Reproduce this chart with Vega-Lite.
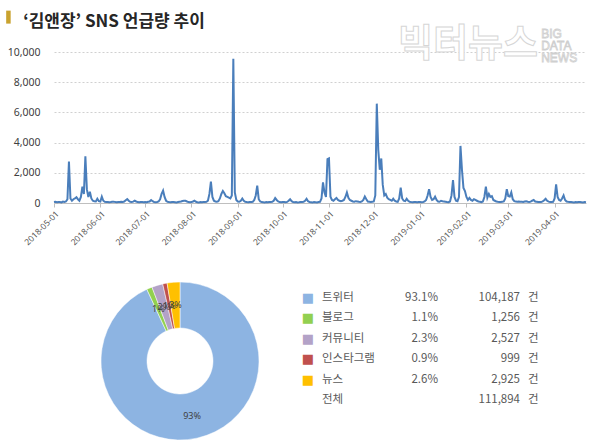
{
"$schema":"https://vega.github.io/schema/vega-lite/v6.json",
"background":"white",
"padding":{"left":6,"top":10,"right":5,"bottom":5},
"title":{"text":"‘김앤장’ SNS 언급량 추이","anchor":"start","frame":"bounds","font":"Noto Sans CJK KR","fontSize":17,"fontWeight":"bold","color":"#262626","dx":17,"offset":-20},
"config":{"view":{"stroke":null},"axisY":{"title":null,"values":[0,2000,4000,6000,8000,10000],"format":",.0f","labelOverlap":false,"domain":false,"ticks":false,"labelFont":"Noto Sans","labelFontSize":10.5,"labelColor":"#404040","labelPadding":14,"grid":true,"gridDash":[2,2],"gridColor":"#d0d0d0"}},
"spacing":29,
"datasets":{
"daily":[
{"d":"2018-05-01","v":60},{"d":"2018-05-02","v":80},{"d":"2018-05-03","v":50},{"d":"2018-05-04","v":70},{"d":"2018-05-05","v":60},{"d":"2018-05-06","v":40},{"d":"2018-05-07","v":90},{"d":"2018-05-08","v":70},{"d":"2018-05-09","v":100},{"d":"2018-05-10","v":250},{"d":"2018-05-11","v":2750},{"d":"2018-05-12","v":300},{"d":"2018-05-13","v":150},{"d":"2018-05-14","v":250},{"d":"2018-05-15","v":300},{"d":"2018-05-16","v":380},{"d":"2018-05-17","v":250},{"d":"2018-05-18","v":150},{"d":"2018-05-19","v":400},{"d":"2018-05-20","v":1080},{"d":"2018-05-21","v":600},{"d":"2018-05-22","v":3100},{"d":"2018-05-23","v":900},{"d":"2018-05-24","v":400},{"d":"2018-05-25","v":750},{"d":"2018-05-26","v":300},{"d":"2018-05-27","v":150},{"d":"2018-05-28","v":120},{"d":"2018-05-29","v":100},{"d":"2018-05-30","v":280},{"d":"2018-05-31","v":120},
{"d":"2018-06-01","v":100},{"d":"2018-06-02","v":420},{"d":"2018-06-03","v":150},{"d":"2018-06-04","v":80},{"d":"2018-06-05","v":60},{"d":"2018-06-06","v":70},{"d":"2018-06-07","v":50},{"d":"2018-06-08","v":60},{"d":"2018-06-09","v":80},{"d":"2018-06-10","v":90},{"d":"2018-06-11","v":60},{"d":"2018-06-12","v":50},{"d":"2018-06-13","v":70},{"d":"2018-06-14","v":60},{"d":"2018-06-15","v":80},{"d":"2018-06-16","v":70},{"d":"2018-06-17","v":100},{"d":"2018-06-18","v":180},{"d":"2018-06-19","v":260},{"d":"2018-06-20","v":150},{"d":"2018-06-21","v":80},{"d":"2018-06-22","v":70},{"d":"2018-06-23","v":90},{"d":"2018-06-24","v":150},{"d":"2018-06-25","v":100},{"d":"2018-06-26","v":60},{"d":"2018-06-27","v":50},{"d":"2018-06-28","v":70},{"d":"2018-06-29","v":60},{"d":"2018-06-30","v":50},
{"d":"2018-07-01","v":60},{"d":"2018-07-02","v":50},{"d":"2018-07-03","v":80},{"d":"2018-07-04","v":100},{"d":"2018-07-05","v":200},{"d":"2018-07-06","v":120},{"d":"2018-07-07","v":60},{"d":"2018-07-08","v":50},{"d":"2018-07-09","v":70},{"d":"2018-07-10","v":100},{"d":"2018-07-11","v":250},{"d":"2018-07-12","v":600},{"d":"2018-07-13","v":820},{"d":"2018-07-14","v":400},{"d":"2018-07-15","v":150},{"d":"2018-07-16","v":80},{"d":"2018-07-17","v":60},{"d":"2018-07-18","v":50},{"d":"2018-07-19","v":70},{"d":"2018-07-20","v":60},{"d":"2018-07-21","v":50},{"d":"2018-07-22","v":40},{"d":"2018-07-23","v":60},{"d":"2018-07-24","v":80},{"d":"2018-07-25","v":100},{"d":"2018-07-26","v":130},{"d":"2018-07-27","v":150},{"d":"2018-07-28","v":150},{"d":"2018-07-29","v":100},{"d":"2018-07-30","v":60},{"d":"2018-07-31","v":50},
{"d":"2018-08-01","v":60},{"d":"2018-08-02","v":100},{"d":"2018-08-03","v":150},{"d":"2018-08-04","v":80},{"d":"2018-08-05","v":50},{"d":"2018-08-06","v":40},{"d":"2018-08-07","v":60},{"d":"2018-08-08","v":50},{"d":"2018-08-09","v":70},{"d":"2018-08-10","v":60},{"d":"2018-08-11","v":80},{"d":"2018-08-12","v":150},{"d":"2018-08-13","v":600},{"d":"2018-08-14","v":1410},{"d":"2018-08-15","v":400},{"d":"2018-08-16","v":150},{"d":"2018-08-17","v":100},{"d":"2018-08-18","v":80},{"d":"2018-08-19","v":120},{"d":"2018-08-20","v":300},{"d":"2018-08-21","v":600},{"d":"2018-08-22","v":800},{"d":"2018-08-23","v":650},{"d":"2018-08-24","v":450},{"d":"2018-08-25","v":400},{"d":"2018-08-26","v":350},{"d":"2018-08-27","v":300},{"d":"2018-08-28","v":500},{"d":"2018-08-29","v":9550},{"d":"2018-08-30","v":700},{"d":"2018-08-31","v":200},
{"d":"2018-09-01","v":100},{"d":"2018-09-02","v":80},{"d":"2018-09-03","v":150},{"d":"2018-09-04","v":300},{"d":"2018-09-05","v":150},{"d":"2018-09-06","v":80},{"d":"2018-09-07","v":60},{"d":"2018-09-08","v":50},{"d":"2018-09-09","v":70},{"d":"2018-09-10","v":60},{"d":"2018-09-11","v":80},{"d":"2018-09-12","v":200},{"d":"2018-09-13","v":500},{"d":"2018-09-14","v":1150},{"d":"2018-09-15","v":250},{"d":"2018-09-16","v":100},{"d":"2018-09-17","v":60},{"d":"2018-09-18","v":50},{"d":"2018-09-19","v":40},{"d":"2018-09-20","v":60},{"d":"2018-09-21","v":50},{"d":"2018-09-22","v":70},{"d":"2018-09-23","v":60},{"d":"2018-09-24","v":80},{"d":"2018-09-25","v":150},{"d":"2018-09-26","v":330},{"d":"2018-09-27","v":200},{"d":"2018-09-28","v":100},{"d":"2018-09-29","v":60},{"d":"2018-09-30","v":50},
{"d":"2018-10-01","v":70},{"d":"2018-10-02","v":60},{"d":"2018-10-03","v":50},{"d":"2018-10-04","v":70},{"d":"2018-10-05","v":150},{"d":"2018-10-06","v":250},{"d":"2018-10-07","v":120},{"d":"2018-10-08","v":60},{"d":"2018-10-09","v":50},{"d":"2018-10-10","v":60},{"d":"2018-10-11","v":40},{"d":"2018-10-12","v":50},{"d":"2018-10-13","v":70},{"d":"2018-10-14","v":60},{"d":"2018-10-15","v":80},{"d":"2018-10-16","v":150},{"d":"2018-10-17","v":280},{"d":"2018-10-18","v":120},{"d":"2018-10-19","v":60},{"d":"2018-10-20","v":50},{"d":"2018-10-21","v":40},{"d":"2018-10-22","v":60},{"d":"2018-10-23","v":50},{"d":"2018-10-24","v":40},{"d":"2018-10-25","v":60},{"d":"2018-10-26","v":80},{"d":"2018-10-27","v":300},{"d":"2018-10-28","v":1370},{"d":"2018-10-29","v":700},{"d":"2018-10-30","v":400},{"d":"2018-10-31","v":2900},
{"d":"2018-11-01","v":2950},{"d":"2018-11-02","v":420},{"d":"2018-11-03","v":200},{"d":"2018-11-04","v":150},{"d":"2018-11-05","v":250},{"d":"2018-11-06","v":330},{"d":"2018-11-07","v":200},{"d":"2018-11-08","v":150},{"d":"2018-11-09","v":120},{"d":"2018-11-10","v":150},{"d":"2018-11-11","v":200},{"d":"2018-11-12","v":400},{"d":"2018-11-13","v":700},{"d":"2018-11-14","v":350},{"d":"2018-11-15","v":200},{"d":"2018-11-16","v":150},{"d":"2018-11-17","v":100},{"d":"2018-11-18","v":80},{"d":"2018-11-19","v":120},{"d":"2018-11-20","v":100},{"d":"2018-11-21","v":80},{"d":"2018-11-22","v":70},{"d":"2018-11-23","v":100},{"d":"2018-11-24","v":200},{"d":"2018-11-25","v":430},{"d":"2018-11-26","v":250},{"d":"2018-11-27","v":100},{"d":"2018-11-28","v":80},{"d":"2018-11-29","v":60},{"d":"2018-11-30","v":80},
{"d":"2018-12-01","v":100},{"d":"2018-12-02","v":500},{"d":"2018-12-03","v":6580},{"d":"2018-12-04","v":3500},{"d":"2018-12-05","v":2200},{"d":"2018-12-06","v":2950},{"d":"2018-12-07","v":1200},{"d":"2018-12-08","v":500},{"d":"2018-12-09","v":600},{"d":"2018-12-10","v":350},{"d":"2018-12-11","v":250},{"d":"2018-12-12","v":200},{"d":"2018-12-13","v":150},{"d":"2018-12-14","v":280},{"d":"2018-12-15","v":150},{"d":"2018-12-16","v":100},{"d":"2018-12-17","v":80},{"d":"2018-12-18","v":300},{"d":"2018-12-19","v":1010},{"d":"2018-12-20","v":300},{"d":"2018-12-21","v":150},{"d":"2018-12-22","v":120},{"d":"2018-12-23","v":280},{"d":"2018-12-24","v":150},{"d":"2018-12-25","v":80},{"d":"2018-12-26","v":60},{"d":"2018-12-27","v":50},{"d":"2018-12-28","v":70},{"d":"2018-12-29","v":60},{"d":"2018-12-30","v":50},{"d":"2018-12-31","v":60},
{"d":"2019-01-01","v":60},{"d":"2019-01-02","v":50},{"d":"2019-01-03","v":70},{"d":"2019-01-04","v":100},{"d":"2019-01-05","v":200},{"d":"2019-01-06","v":500},{"d":"2019-01-07","v":920},{"d":"2019-01-08","v":400},{"d":"2019-01-09","v":200},{"d":"2019-01-10","v":250},{"d":"2019-01-11","v":420},{"d":"2019-01-12","v":200},{"d":"2019-01-13","v":100},{"d":"2019-01-14","v":80},{"d":"2019-01-15","v":150},{"d":"2019-01-16","v":120},{"d":"2019-01-17","v":100},{"d":"2019-01-18","v":80},{"d":"2019-01-19","v":60},{"d":"2019-01-20","v":50},{"d":"2019-01-21","v":100},{"d":"2019-01-22","v":500},{"d":"2019-01-23","v":1520},{"d":"2019-01-24","v":400},{"d":"2019-01-25","v":150},{"d":"2019-01-26","v":120},{"d":"2019-01-27","v":400},{"d":"2019-01-28","v":3780},{"d":"2019-01-29","v":2200},{"d":"2019-01-30","v":1000},{"d":"2019-01-31","v":790},
{"d":"2019-02-01","v":400},{"d":"2019-02-02","v":200},{"d":"2019-02-03","v":330},{"d":"2019-02-04","v":200},{"d":"2019-02-05","v":150},{"d":"2019-02-06","v":250},{"d":"2019-02-07","v":200},{"d":"2019-02-08","v":150},{"d":"2019-02-09","v":100},{"d":"2019-02-10","v":80},{"d":"2019-02-11","v":60},{"d":"2019-02-12","v":100},{"d":"2019-02-13","v":400},{"d":"2019-02-14","v":1080},{"d":"2019-02-15","v":350},{"d":"2019-02-16","v":600},{"d":"2019-02-17","v":400},{"d":"2019-02-18","v":450},{"d":"2019-02-19","v":200},{"d":"2019-02-20","v":150},{"d":"2019-02-21","v":100},{"d":"2019-02-22","v":80},{"d":"2019-02-23","v":70},{"d":"2019-02-24","v":60},{"d":"2019-02-25","v":80},{"d":"2019-02-26","v":100},{"d":"2019-02-27","v":300},{"d":"2019-02-28","v":920},
{"d":"2019-03-01","v":450},{"d":"2019-03-02","v":430},{"d":"2019-03-03","v":700},{"d":"2019-03-04","v":250},{"d":"2019-03-05","v":120},{"d":"2019-03-06","v":100},{"d":"2019-03-07","v":80},{"d":"2019-03-08","v":100},{"d":"2019-03-09","v":90},{"d":"2019-03-10","v":80},{"d":"2019-03-11","v":70},{"d":"2019-03-12","v":100},{"d":"2019-03-13","v":120},{"d":"2019-03-14","v":80},{"d":"2019-03-15","v":70},{"d":"2019-03-16","v":90},{"d":"2019-03-17","v":150},{"d":"2019-03-18","v":200},{"d":"2019-03-19","v":100},{"d":"2019-03-20","v":80},{"d":"2019-03-21","v":60},{"d":"2019-03-22","v":70},{"d":"2019-03-23","v":60},{"d":"2019-03-24","v":100},{"d":"2019-03-25","v":180},{"d":"2019-03-26","v":280},{"d":"2019-03-27","v":150},{"d":"2019-03-28","v":90},{"d":"2019-03-29","v":70},{"d":"2019-03-30","v":60},{"d":"2019-03-31","v":80},
{"d":"2019-04-01","v":300},{"d":"2019-04-02","v":1230},{"d":"2019-04-03","v":400},{"d":"2019-04-04","v":200},{"d":"2019-04-05","v":150},{"d":"2019-04-06","v":300},{"d":"2019-04-07","v":500},{"d":"2019-04-08","v":200},{"d":"2019-04-09","v":100},{"d":"2019-04-10","v":80},{"d":"2019-04-11","v":70},{"d":"2019-04-12","v":60},{"d":"2019-04-13","v":50},{"d":"2019-04-14","v":40},{"d":"2019-04-15","v":60},{"d":"2019-04-16","v":50},{"d":"2019-04-17","v":70},{"d":"2019-04-18","v":60},{"d":"2019-04-19","v":50},{"d":"2019-04-20","v":40},{"d":"2019-04-21","v":60},{"d":"2019-04-22","v":50}
],
"share":[
{"name":"트위터","pct":0.931,"cnt":104187},
{"name":"블로그","pct":0.011,"cnt":1256},
{"name":"커뮤니티","pct":0.023,"cnt":2527},
{"name":"인스타그램","pct":0.009,"cnt":999},
{"name":"뉴스","pct":0.026,"cnt":2925},
{"name":"전체","pct":null,"cnt":111894}
],
"one":[{"k":1}]
},
"vconcat":[
{
"width":532,"height":151,
"layer":[
{"data":{"name":"daily"},
 "mark":{"type":"line","color":"#4A7EBB","strokeWidth":2},
 "encoding":{
  "x":{"field":"d","type":"temporal",
   "scale":{"type":"utc","domain":[{"year":2018,"month":5,"date":1,"utc":true},{"year":2019,"month":4,"date":22,"utc":true}]},
   "axis":{"title":null,"format":"%Y-%m-%d","tickCount":{"interval":"month","step":1},"labelAngle":-45,"labelFont":"Noto Sans","labelFontSize":8.5,"labelColor":"#595959","domainColor":"#bfbfbf","tickColor":"#bfbfbf","tickSize":4,"grid":false,"labelPadding":2}},
  "y":{"field":"v","type":"quantitative","scale":{"domain":[0,10000]},"axis":{"format":",.0f","values":[0,2000,4000,6000,8000,10000]}}}},
{"data":{"name":"one"},
 "mark":{"type":"rect","color":"#C9A22E"},
 "encoding":{
  "x":{"datum":{"year":2018,"month":3,"date":30,"utc":true},"type":"temporal"},
  "x2":{"datum":{"year":2018,"month":4,"date":2,"utc":true}},
  "y":{"datum":12740,"type":"quantitative","axis":{"format":",.0f","values":[0,2000,4000,6000,8000,10000]}},
  "y2":{"datum":11880}}},
{"data":{"name":"one"},
 "mark":{"type":"text","font":"Noto Sans CJK KR","fontSize":38,"fontWeight":"bold","fill":"#ffffff","stroke":"#d6d6d6","strokeWidth":1,"align":"center","baseline":"middle"},
 "encoding":{
  "x":{"datum":{"year":2019,"month":2,"date":2,"utc":true},"type":"temporal"},
  "y":{"datum":10450,"type":"quantitative","axis":{"format":",.0f","values":[0,2000,4000,6000,8000,10000]}},
  "text":{"value":"빅터뉴스"}}},
{"data":{"name":"one"},
 "mark":{"type":"text","font":"Liberation Sans","fontSize":12,"fill":"#ffffff","stroke":"#cfcfcf","strokeWidth":0.8,"align":"left","baseline":"middle","lineHeight":12},
 "encoding":{
  "x":{"datum":{"year":2019,"month":3,"date":23,"utc":true},"type":"temporal"},
  "y":{"datum":11220,"type":"quantitative","axis":{"format":",.0f","values":[0,2000,4000,6000,8000,10000]}},
  "text":{"value":["BIG","DATA","NEWS"]}}}
]
},
{
"width":252,"height":170,
"data":{"name":"share"},
"layer":[
{"transform":[{"filter":"datum.name != '전체'"},{"window":[{"op":"row_number","as":"i"}]}],
 "mark":{"type":"arc","outerRadius":79,"innerRadius":33,"stroke":"#ffffff","strokeWidth":0.5},
 "encoding":{
  "theta":{"field":"cnt","type":"quantitative","stack":true},
  "order":{"field":"i","type":"quantitative"},
  "color":{"field":"name","type":"nominal","scale":{"domain":["트위터","블로그","커뮤니티","인스타그램","뉴스"],"range":["#8DB4E2","#92D050","#B3A2C7","#C0504D","#FFC000"]},"legend":null}}},
{"transform":[{"filter":"datum.name != '전체'"},{"window":[{"op":"row_number","as":"i"}]}],
 "mark":{"type":"text","radius":56,"font":"Noto Sans","fontSize":9,"fill":"#404040"},
 "encoding":{
  "theta":{"field":"cnt","type":"quantitative","stack":true},
  "order":{"field":"i","type":"quantitative"},
  "text":{"field":"pct","type":"quantitative","format":".0%"}}},
{"transform":[{"filter":"datum.name != '전체'"}],
 "mark":{"type":"text","text":"■","font":"DejaVu Sans","fontSize":13,"align":"center","baseline":"middle","dx":-14},
 "encoding":{
  "x":{"datum":"name","type":"nominal","scale":{"type":"point","domain":["name","pct","cnt"],"range":[268,466],"padding":0},"axis":null},
  "y":{"field":"name","type":"nominal","scale":{"type":"point","domain":["트위터","블로그","커뮤니티","인스타그램","뉴스","전체"],"range":[22,124],"padding":0},"axis":null},
  "color":{"field":"name","type":"nominal","legend":null}}},
{"mark":{"type":"text","align":"left","baseline":"middle","font":"Noto Sans CJK KR","fontSize":11.5,"fill":"#595959"},
 "encoding":{
  "x":{"datum":"name","type":"nominal"},
  "y":{"field":"name","type":"nominal"},
  "text":{"field":"name","type":"nominal"}}},
{"transform":[{"filter":"datum.pct != null"}],
 "mark":{"type":"text","align":"right","baseline":"middle","font":"Noto Sans CJK KR","fontSize":11.5,"fill":"#595959","dx":17},
 "encoding":{
  "x":{"datum":"pct","type":"nominal"},
  "y":{"field":"name","type":"nominal"},
  "text":{"field":"pct","type":"quantitative","format":".1%"}}},
{"mark":{"type":"text","align":"right","baseline":"middle","font":"Noto Sans CJK KR","fontSize":11.5,"fill":"#595959"},
 "encoding":{
  "x":{"datum":"cnt","type":"nominal"},
  "y":{"field":"name","type":"nominal"},
  "text":{"field":"cnt","type":"quantitative","format":","}}},
{"mark":{"type":"text","align":"left","baseline":"middle","font":"Noto Sans CJK KR","fontSize":11.5,"fill":"#595959","dx":8,"text":"건"},
 "encoding":{
  "x":{"datum":"cnt","type":"nominal"},
  "y":{"field":"name","type":"nominal"}}}
]
}
]
}
